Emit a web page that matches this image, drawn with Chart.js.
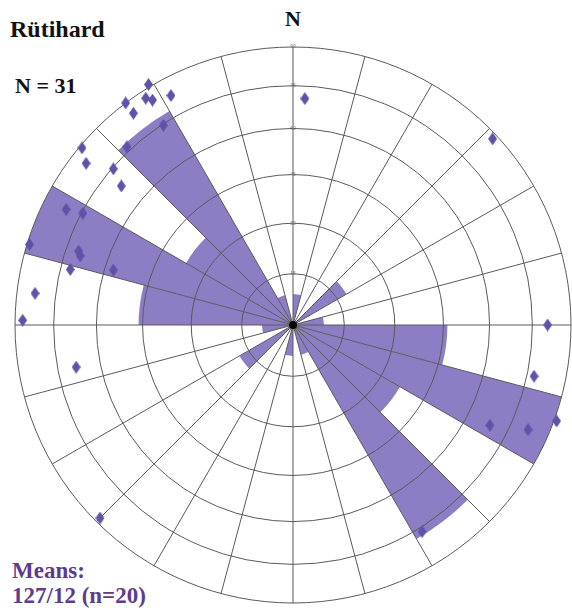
<!DOCTYPE html>
<html>
<head>
<meta charset="utf-8">
<script src="https://cdn.jsdelivr.net/npm/chart.js@4/dist/chart.umd.min.js"></script>
<style>
  html, body { margin: 0; padding: 0; background: #fff; overflow: hidden; width: 572px; height: 610px; }
  #net { position: absolute; left: 10px; top: 42px; width: 566px; height: 566px; }
  #net canvas { position: absolute; left: 0; top: 0; }
  .lbl { position: absolute; font-family: 'Liberation Serif', 'Times New Roman', serif; font-weight: bold; white-space: nowrap; line-height: 1; }
</style>
</head>
<body>
<div class="lbl" style="left:10px; top:17px; font-size:24px; color:#111;">Rütihard</div>
<div class="lbl" style="left:15px; top:75px; font-size:22px; color:#111;">N = 31</div>
<div class="lbl" style="left:285px; top:8px; font-size:22px; color:#111;">N</div>
<div class="lbl" style="left:12px; top:559px; font-size:23px; color:#5d3b8e;">Means:</div>
<div class="lbl" style="left:12px; top:584px; font-size:23px; color:#5d3b8e;">127/12 (n=20)</div>

<div id="net">
  <canvas id="roseChart" width="566" height="566"></canvas>
  <canvas id="polesChart" width="566" height="566"></canvas>
</div>

<script>
// Rose: strike counts in 15 degree bins starting at north, clockwise (both directions counted)
var binLabels = ['0', '15', '30', '45', '60', '75', '90', '105', '120', '135', '150', '165',
  '180', '195', '210', '225', '240', '255', '270', '285', '300', '315', '330', '345'];
var roseCounts = [1, 0, 0, 2, 0, 1, 5, 9, 4, 8, 1, 0,
  1, 0, 0, 2, 0, 1, 5, 9, 4, 8, 1, 0];
var roseMax = 9;

// Dip circles of the equal area net
var ringDips = [0, 15, 30, 45, 60, 75, 90];

// Measured orientations (azimuth / dip) plotted as diamonds
var poleAzimuth = [3, 47, 90, 102, 117, 114, 110, 148, 225, 259, 271, 277,
  284, 289, 288, 287, 287, 297, 298, 310, 308, 311, 309, 317,
  323, 323, 327, 329, 328, 332, 327];
var poleDip = [69, 86, 79, 76, 67, 80, 89, 75, 86, 67, 85, 81,
  70, 69, 68, 56, 87, 79, 73, 87, 82, 73, 67, 75,
  88, 83, 85, 89, 83, 81, 73];

// equal area (Schmidt) projection, radius 1 at dip 90
function schmidt(dip) {
  return Math.SQRT2 * Math.sin(dip * Math.PI / 360);
}

var ringValues = ringDips.map(schmidt);

var roseChart = new Chart(document.getElementById('roseChart'), {
  type: 'polarArea',
  data: {
    labels: binLabels,
    datasets: [{
      data: roseCounts.map(function (c) { return c / roseMax; }),
      backgroundColor: 'rgb(141,125,196)',
      borderWidth: 0
    }]
  },
  options: {
    responsive: false,
    animation: false,
    layout: { padding: 0, autoPadding: false },
    plugins: { legend: { display: false }, tooltip: { enabled: false } },
    scales: {
      r: {
        min: 0,
        max: 1,
        startAngle: 0,
        afterBuildTicks: function (scale) {
          scale.ticks = ringValues.map(function (v) { return { value: v }; });
        },
        grid: { circular: true, color: '#5a5a5a', lineWidth: 1, z: 1 },
        angleLines: { display: true, color: '#5a5a5a', lineWidth: 1 },
        pointLabels: { display: false },
        ticks: {
          z: 1,
          showLabelBackdrop: false,
          color: '#777',
          font: { size: 5 },
          callback: function (value, index) { return String(ringDips[index]); }
        }
      }
    }
  },
  plugins: [{
    id: 'centreDot',
    afterDraw: function (chart) {
      var s = chart.scales.r;
      var ctx = chart.ctx;
      ctx.save();
      ctx.fillStyle = '#000';
      ctx.beginPath();
      ctx.arc(s.xCenter, s.yCenter, 4, 0, Math.PI * 2);
      ctx.fill();
      ctx.restore();
    }
  }]
});

// tall diamond used for the poles
var diamond = document.createElement('canvas');
diamond.width = 9;
diamond.height = 13;
var dctx = diamond.getContext('2d');
dctx.fillStyle = 'rgb(96,82,168)';
dctx.beginPath();
dctx.moveTo(4.5, 0);
dctx.lineTo(9, 6.5);
dctx.lineTo(4.5, 13);
dctx.lineTo(0, 6.5);
dctx.closePath();
dctx.fill();

var poles = poleAzimuth.map(function (az, i) {
  var r = schmidt(poleDip[i]);
  var a = az * Math.PI / 180;
  return { x: r * Math.sin(a), y: r * Math.cos(a) };
});

var polesChart = new Chart(document.getElementById('polesChart'), {
  type: 'scatter',
  data: {
    datasets: [{
      data: poles,
      pointStyle: diamond,
      clip: false
    }]
  },
  options: {
    responsive: false,
    animation: false,
    layout: { padding: 0, autoPadding: false },
    plugins: { legend: { display: false }, tooltip: { enabled: false } },
    scales: {
      x: { type: 'linear', min: -1, max: 1, display: false },
      y: { type: 'linear', min: -1, max: 1, display: false }
    }
  }
});
</script>
</body>
</html>
